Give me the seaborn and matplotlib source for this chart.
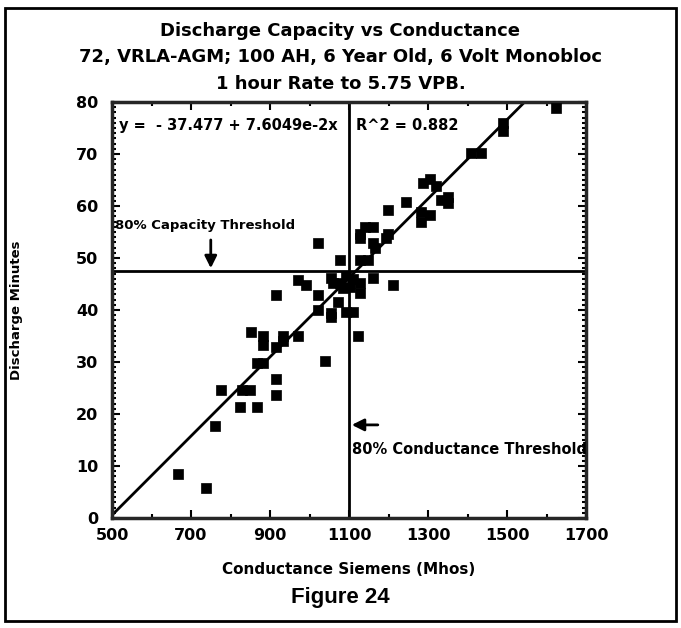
import matplotlib
matplotlib.use("Agg")
import matplotlib.pyplot as plt
import numpy as np
import pandas as pd
import seaborn as sns
from matplotlib.patches import Rectangle
from matplotlib.ticker import MultipleLocator

# Data
conductance = [668, 739, 760, 777, 824, 866, 828, 849, 853, 866,
               883, 883, 883, 916, 916, 916, 916, 933, 933, 971,
               971, 992, 1021, 1021, 1022, 1039, 1055, 1060, 1055, 1055,
               1072, 1076, 1076, 1085, 1102, 1093, 1110, 1127, 1127, 1123,
               1127, 1148, 1127, 1127, 1140, 1161, 1161, 1165, 1161, 1199,
               1199, 1194, 1211, 1245, 1283, 1283, 1304, 1287, 1304, 1321,
               1333, 1350, 1350, 1410, 1434, 1489, 1489, 1624, 1093, 1110]
minutes = [8.5, 5.7, 17.6, 24.6, 21.4, 21.4, 24.6, 24.6, 35.8, 29.8,
           29.8, 34.9, 33.3, 23.7, 26.8, 32.9, 42.9, 34.9, 34.0, 34.9,
           45.8, 44.8, 42.9, 40.0, 52.8, 30.1, 46.1, 45.1, 39.4, 38.7,
           41.6, 45.1, 49.6, 44.2, 44.5, 39.7, 39.7, 45.1, 43.2, 34.9,
           49.6, 49.6, 54.7, 53.8, 56.0, 56.0, 52.8, 51.9, 46.1, 59.2,
           54.7, 53.8, 44.8, 60.8, 58.8, 57.0, 58.3, 64.5, 65.2, 63.8,
           61.2, 61.8, 60.5, 70.1, 70.1, 74.5, 76.0, 78.8, 46.5, 46.0]

intercept = -37.477
slope = 7.6049e-2
r2 = 0.882
capacity_threshold = 47.5
conductance_threshold = 1100

df = pd.DataFrame({"conductance": conductance, "minutes": minutes})
fit_x = np.array([500, 1700])
fit_df = pd.DataFrame({"x": fit_x, "y": intercept + slope * fit_x})

sns.set_style("ticks")
plt.rcParams["font.family"] = ["DejaVu Sans"]
plt.rcParams["text.color"] = "black"
plt.rcParams["axes.labelcolor"] = "black"
plt.rcParams["xtick.color"] = "black"
plt.rcParams["ytick.color"] = "black"

fig = plt.figure(figsize=(6.81, 6.28), dpi=100)
ax = fig.add_axes([0.1645, 0.1752, 0.696, 0.6624])

sns.scatterplot(data=df, x="conductance", y="minutes", marker="s", s=44,
                color="black", edgecolor="black", linewidth=0.5, ax=ax, zorder=3)
sns.lineplot(data=fit_df, x="x", y="y", color="black", linewidth=2, ax=ax)

ax.axhline(capacity_threshold, color="black", lw=2)
ax.axvline(conductance_threshold, color="black", lw=2)

ax.set_xlim(500, 1700)
ax.set_ylim(0, 80)
ax.set_xticks(range(500, 1701, 200))
ax.set_yticks(range(0, 81, 10))
ax.xaxis.set_minor_locator(MultipleLocator(100))
ax.yaxis.set_minor_locator(MultipleLocator(1))
ax.tick_params(which="both", direction="in", top=True, right=True, width=1.5)
ax.tick_params(which="major", length=6, labelsize=11.5)
ax.tick_params(axis="x", which="major", pad=7)
ax.tick_params(axis="y", which="major", pad=10)
ax.tick_params(which="minor", length=3)
for lab in ax.get_xticklabels() + ax.get_yticklabels():
    lab.set_fontweight("bold")
for sp in ax.spines.values():
    sp.set_linewidth(2.5)

ax.set_xlabel("Conductance Siemens (Mhos)", fontsize=11, fontweight="bold", labelpad=14)
ax.set_ylabel("Discharge Minutes", fontsize=9.5, fontweight="bold", labelpad=38)

ax.text(517, 75.5, "y =  - 37.477 + 7.6049e-2x", fontsize=10.5, fontweight="bold",
        va="center", ha="left")
ax.text(1118, 75.5, "R^2 = 0.882", fontsize=10.5, fontweight="bold", va="center", ha="left")

ax.text(508, 56.3, "80% Capacity Threshold", fontsize=9.5, fontweight="bold",
        va="center", ha="left")
ax.annotate("", xy=(750, capacity_threshold), xytext=(750, 54),
            arrowprops=dict(arrowstyle="-|>", color="black", lw=2, mutation_scale=18))
ax.text(1108, 13.2, "80% Conductance Threshold", fontsize=10.5, fontweight="bold",
        va="center", ha="left")
ax.annotate("", xy=(conductance_threshold, 17.9), xytext=(1180, 17.9),
            arrowprops=dict(arrowstyle="-|>", color="black", lw=2, mutation_scale=18))

fig.text(0.5, 1 - 31 / 628, "Discharge Capacity vs Conductance", ha="center", va="center",
         fontsize=13, fontweight="bold")
fig.text(0.5, 1 - 57 / 628, "72, VRLA-AGM; 100 AH, 6 Year Old, 6 Volt Monobloc",
         ha="center", va="center", fontsize=13, fontweight="bold")
fig.text(0.5, 1 - 84 / 628, "1 hour Rate to 5.75 VPB.", ha="center", va="center",
         fontsize=13, fontweight="bold")
fig.text(0.5, 1 - 598 / 628, "Figure 24", ha="center", va="center", fontsize=16,
         fontweight="bold", family=["Liberation Sans", "DejaVu Sans"])

fig.patches.append(Rectangle((5 / 681, 1 - 621 / 628), 671 / 681, 613 / 628,
                             transform=fig.transFigure, fill=False, lw=2, color="black"))

fig.savefig("out.png", dpi=100, facecolor="white")
